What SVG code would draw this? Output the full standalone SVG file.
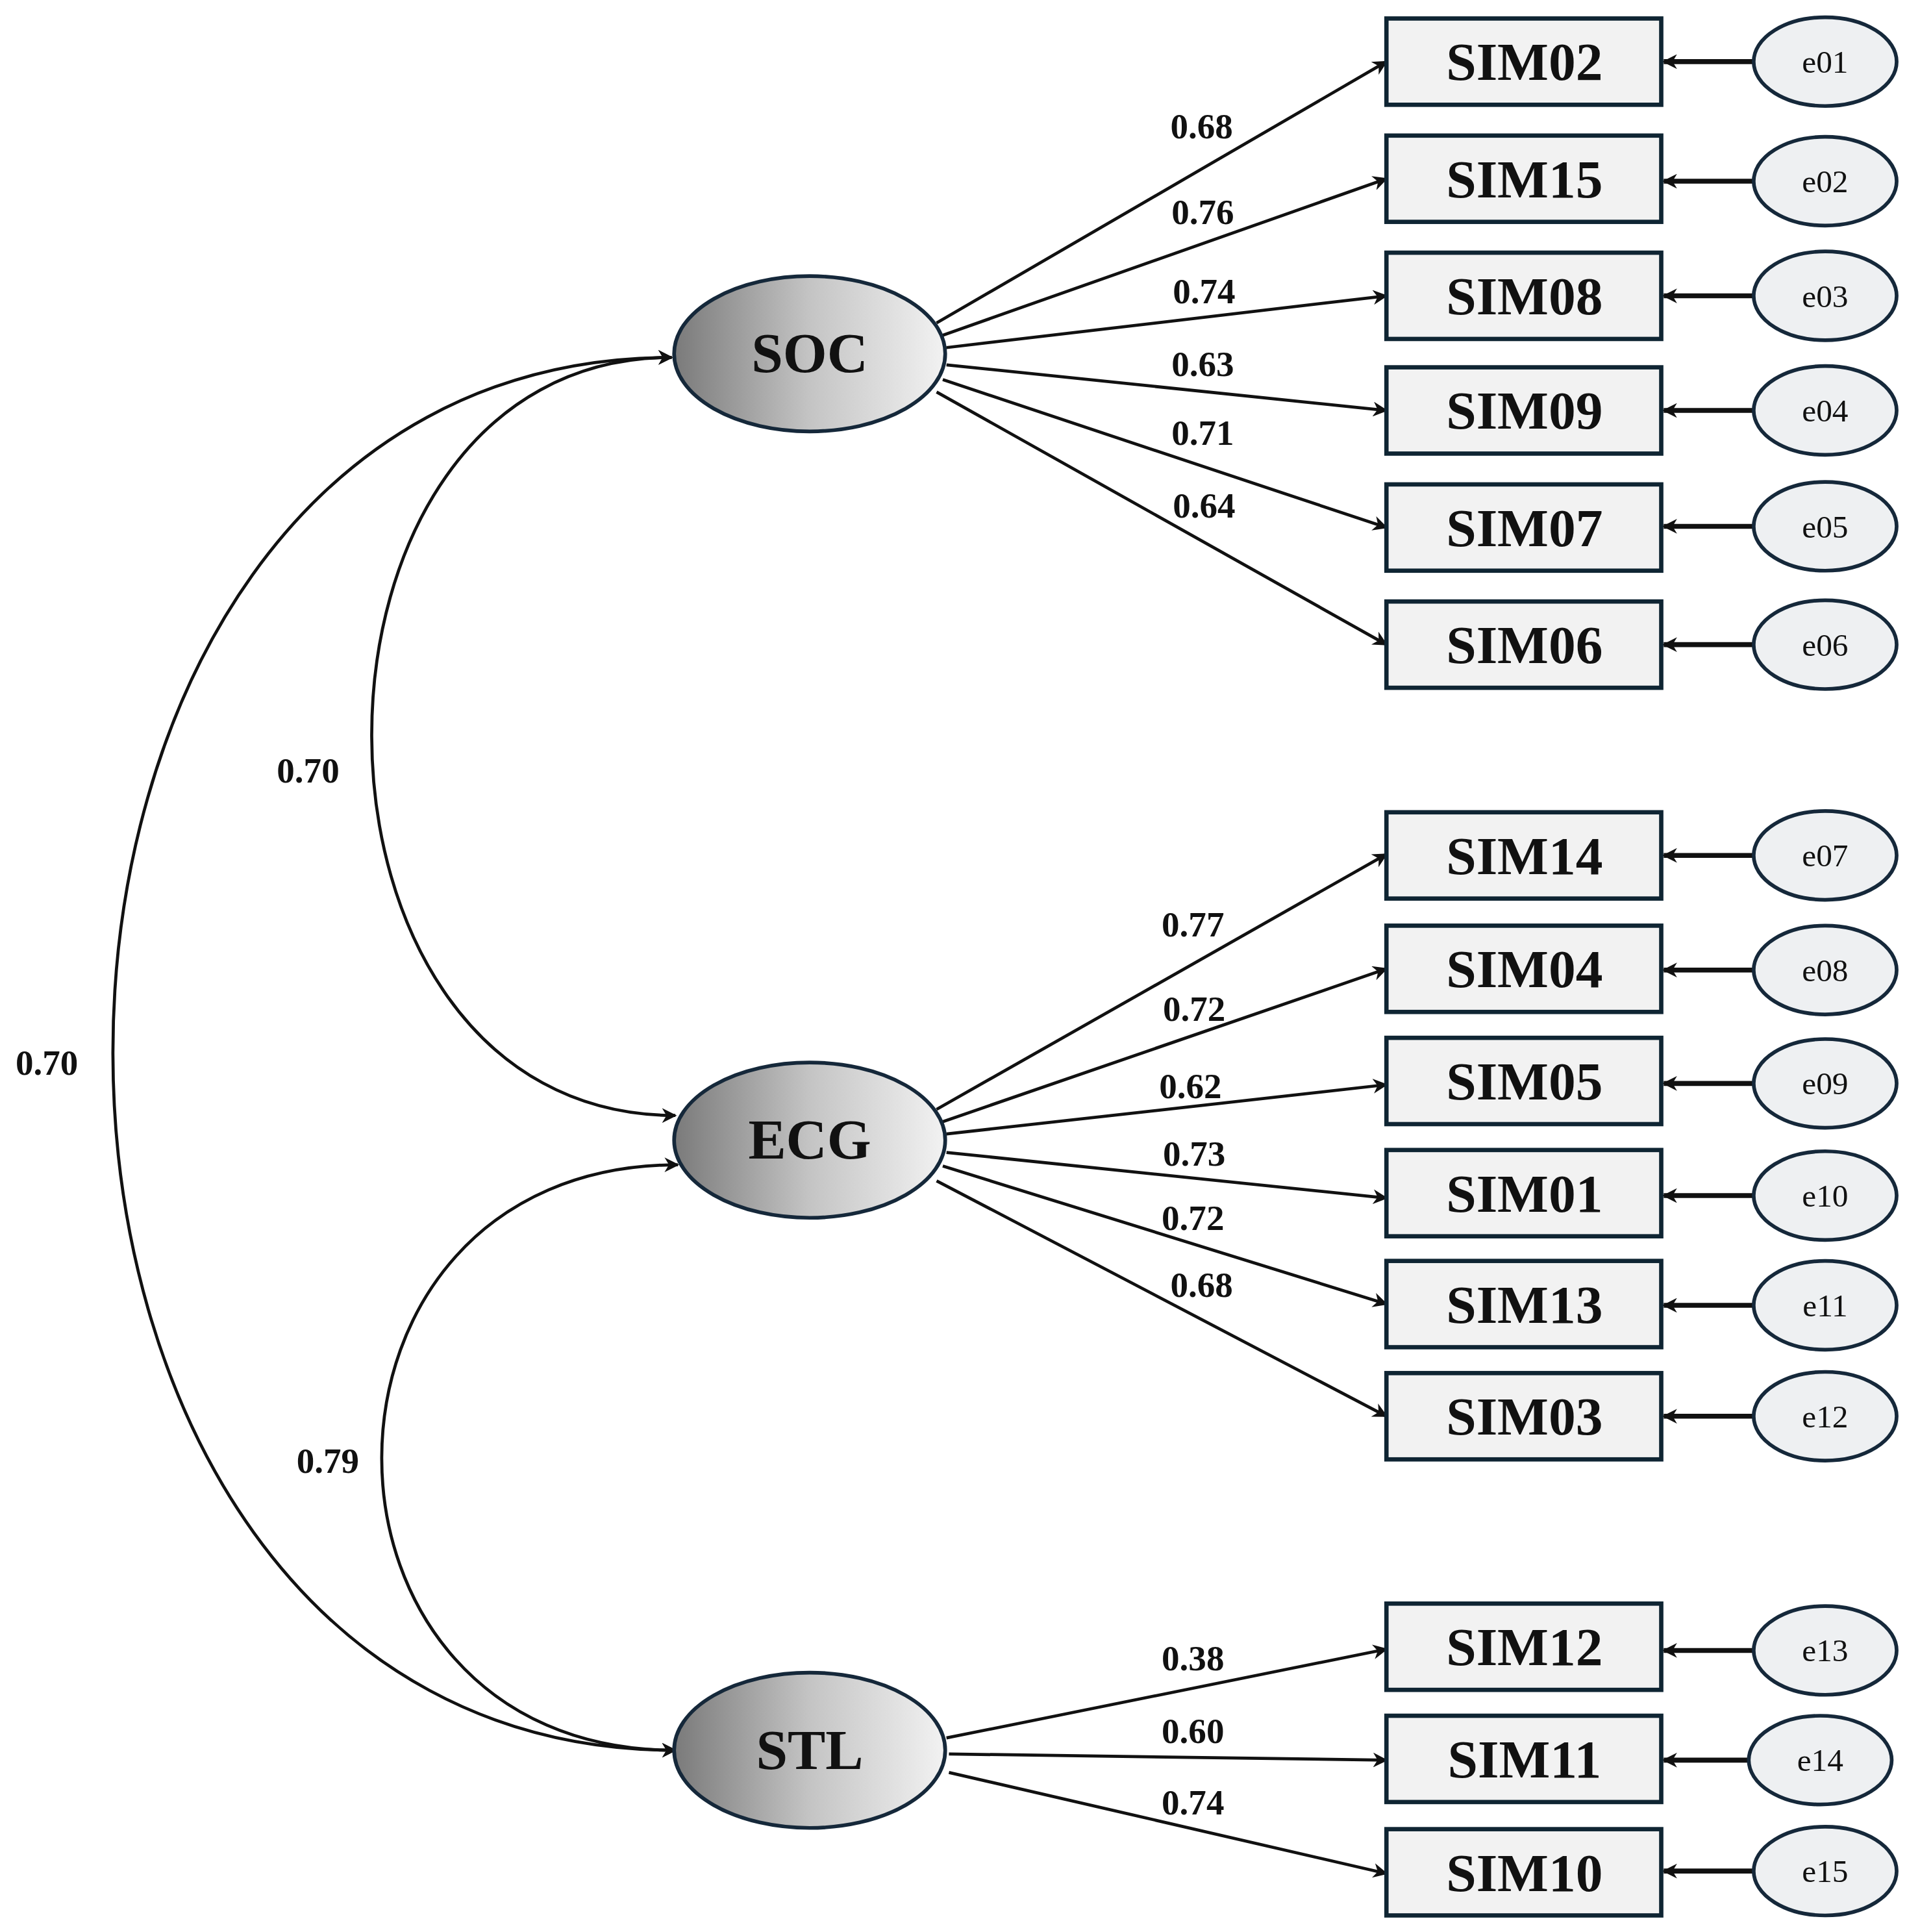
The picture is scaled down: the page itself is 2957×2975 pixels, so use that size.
<svg xmlns="http://www.w3.org/2000/svg" width="2957" height="2975" viewBox="0 0 2957 2975">
<defs>
<linearGradient id="lg" x1="0" y1="0" x2="1" y2="0"><stop offset="0" stop-color="#7a7a7a"/><stop offset="0.5" stop-color="#c4c4c4"/><stop offset="1" stop-color="#f2f2f2"/></linearGradient>
<marker id="ah2" viewBox="0 0 10 10" refX="9" refY="5" markerWidth="12" markerHeight="12" orient="auto-start-reverse" markerUnits="userSpaceOnUse"><path d="M0,0 L10,5 L0,10 L3,5 z" fill="#111"/></marker>
</defs>
<style>
.lat{fill:url(#lg);stroke:#15283a;stroke-width:3}
.box{fill:#f2f2f2;stroke:#0f2533;stroke-width:3.5}
.err{fill:#eef0f2;stroke:#15283a;stroke-width:3}
.t{font-family:"Liberation Serif",serif;text-anchor:middle;fill:#111}
.big{font-size:44px;font-weight:bold}
.lb{font-size:46px;font-weight:bold}
.sm{font-size:26px}
.num{font-size:29px;font-weight:bold}
.c{fill:none;stroke:#111;stroke-width:2.5;marker-end:url(#ah2)}
.cv{fill:none;stroke:#111;stroke-width:2.5;marker-start:url(#ah2);marker-end:url(#ah2)}
.ea{fill:none;stroke:#111;stroke-width:4;marker-end:url(#ah2)}
</style>
<rect width="2957" height="2975" fill="#fff"/>
<g transform="scale(1.898,1.898)">
<g id="connectors">
<path class="c" d="M760,262 L1125,50"/>
<path class="c" d="M765,272 L1125,145"/>
<path class="c" d="M768,282 L1125,240"/>
<path class="c" d="M768,296 L1125,333"/>
<path class="c" d="M765,308 L1125,428"/>
<path class="c" d="M760,318 L1125,523"/>
<path class="c" d="M760,900 L1125,693"/>
<path class="c" d="M765,910 L1125,786"/>
<path class="c" d="M768,920 L1125,880"/>
<path class="c" d="M768,935 L1125,972"/>
<path class="c" d="M765,946 L1125,1058"/>
<path class="c" d="M760,958 L1125,1149"/>
<path class="c" d="M768,1410 L1125,1338"/>
<path class="c" d="M770,1423 L1125,1428"/>
<path class="c" d="M770,1438 L1125,1520"/>
<path class="ea" d="M1423,50 L1350,50"/><path class="ea" d="M1423,147 L1350,147"/><path class="ea" d="M1423,240 L1350,240"/>
<path class="ea" d="M1423,333 L1350,333"/><path class="ea" d="M1423,427 L1350,427"/><path class="ea" d="M1423,523 L1350,523"/>
<path class="ea" d="M1423,694 L1350,694"/><path class="ea" d="M1423,787 L1350,787"/><path class="ea" d="M1423,879 L1350,879"/>
<path class="ea" d="M1423,970 L1350,970"/><path class="ea" d="M1423,1059 L1350,1059"/><path class="ea" d="M1423,1149 L1350,1149"/>
<path class="ea" d="M1423,1339 L1350,1339"/><path class="ea" d="M1418,1428 L1350,1428"/><path class="ea" d="M1423,1518 L1350,1518"/>
<path class="cv" d="M548,905 C220,905 220,290 545,290"/>
<path class="cv" d="M548,1420 C-60,1420 -60,290 545,290"/>
<path class="cv" d="M548,1420 C230,1420 230,945 550,945"/>
</g>
<g id="SOC"><ellipse class="lat" cx="657" cy="287" rx="110" ry="63"/><text class="t lb" x="657" y="302">SOC</text></g>
<g id="ECG"><ellipse class="lat" cx="657" cy="925" rx="110" ry="63"/><text class="t lb" x="657" y="940">ECG</text></g>
<g id="STL"><ellipse class="lat" cx="657" cy="1420" rx="110" ry="63"/><text class="t lb" x="657" y="1435">STL</text></g>
<g id="SIM02"><rect class="box" x="1125" y="15" width="223" height="70"/><text class="t big" x="1237" y="65">SIM02</text></g>
<g id="SIM15"><rect class="box" x="1125" y="110" width="223" height="70"/><text class="t big" x="1237" y="160">SIM15</text></g>
<g id="SIM08"><rect class="box" x="1125" y="205" width="223" height="70"/><text class="t big" x="1237" y="255">SIM08</text></g>
<g id="SIM09"><rect class="box" x="1125" y="298" width="223" height="70"/><text class="t big" x="1237" y="348">SIM09</text></g>
<g id="SIM07"><rect class="box" x="1125" y="393" width="223" height="70"/><text class="t big" x="1237" y="443">SIM07</text></g>
<g id="SIM06"><rect class="box" x="1125" y="488" width="223" height="70"/><text class="t big" x="1237" y="538">SIM06</text></g>
<g id="SIM14"><rect class="box" x="1125" y="659" width="223" height="70"/><text class="t big" x="1237" y="709">SIM14</text></g>
<g id="SIM04"><rect class="box" x="1125" y="751" width="223" height="70"/><text class="t big" x="1237" y="801">SIM04</text></g>
<g id="SIM05"><rect class="box" x="1125" y="842" width="223" height="70"/><text class="t big" x="1237" y="892">SIM05</text></g>
<g id="SIM01"><rect class="box" x="1125" y="933" width="223" height="70"/><text class="t big" x="1237" y="983">SIM01</text></g>
<g id="SIM13"><rect class="box" x="1125" y="1023" width="223" height="70"/><text class="t big" x="1237" y="1073">SIM13</text></g>
<g id="SIM03"><rect class="box" x="1125" y="1114" width="223" height="70"/><text class="t big" x="1237" y="1164">SIM03</text></g>
<g id="SIM12"><rect class="box" x="1125" y="1301" width="223" height="70"/><text class="t big" x="1237" y="1351">SIM12</text></g>
<g id="SIM11"><rect class="box" x="1125" y="1392" width="223" height="70"/><text class="t big" x="1237" y="1442">SIM11</text></g>
<g id="SIM10"><rect class="box" x="1125" y="1484" width="223" height="70"/><text class="t big" x="1237" y="1534">SIM10</text></g>
<g id="e01"><ellipse class="err" cx="1481" cy="50" rx="58" ry="36"/><text class="t sm" x="1481" y="59">e01</text></g>
<g id="e02"><ellipse class="err" cx="1481" cy="147" rx="58" ry="36"/><text class="t sm" x="1481" y="156">e02</text></g>
<g id="e03"><ellipse class="err" cx="1481" cy="240" rx="58" ry="36"/><text class="t sm" x="1481" y="249">e03</text></g>
<g id="e04"><ellipse class="err" cx="1481" cy="333" rx="58" ry="36"/><text class="t sm" x="1481" y="342">e04</text></g>
<g id="e05"><ellipse class="err" cx="1481" cy="427" rx="58" ry="36"/><text class="t sm" x="1481" y="436">e05</text></g>
<g id="e06"><ellipse class="err" cx="1481" cy="523" rx="58" ry="36"/><text class="t sm" x="1481" y="532">e06</text></g>
<g id="e07"><ellipse class="err" cx="1481" cy="694" rx="58" ry="36"/><text class="t sm" x="1481" y="703">e07</text></g>
<g id="e08"><ellipse class="err" cx="1481" cy="787" rx="58" ry="36"/><text class="t sm" x="1481" y="796">e08</text></g>
<g id="e09"><ellipse class="err" cx="1481" cy="879" rx="58" ry="36"/><text class="t sm" x="1481" y="888">e09</text></g>
<g id="e10"><ellipse class="err" cx="1481" cy="970" rx="58" ry="36"/><text class="t sm" x="1481" y="979">e10</text></g>
<g id="e11"><ellipse class="err" cx="1481" cy="1059" rx="58" ry="36"/><text class="t sm" x="1481" y="1068">e11</text></g>
<g id="e12"><ellipse class="err" cx="1481" cy="1149" rx="58" ry="36"/><text class="t sm" x="1481" y="1158">e12</text></g>
<g id="e13"><ellipse class="err" cx="1481" cy="1339" rx="58" ry="36"/><text class="t sm" x="1481" y="1348">e13</text></g>
<g id="e14"><ellipse class="err" cx="1477" cy="1428" rx="58" ry="36"/><text class="t sm" x="1477" y="1437">e14</text></g>
<g id="e15"><ellipse class="err" cx="1481" cy="1518" rx="58" ry="36"/><text class="t sm" x="1481" y="1527">e15</text></g>
<g id="labels">
<text class="t num" x="975" y="112">0.68</text>
<text class="t num" x="976" y="182">0.76</text>
<text class="t num" x="977" y="246">0.74</text>
<text class="t num" x="976" y="305">0.63</text>
<text class="t num" x="976" y="361">0.71</text>
<text class="t num" x="977" y="420">0.64</text>
<text class="t num" x="968" y="760">0.77</text>
<text class="t num" x="969" y="828">0.72</text>
<text class="t num" x="966" y="891">0.62</text>
<text class="t num" x="969" y="946">0.73</text>
<text class="t num" x="968" y="998">0.72</text>
<text class="t num" x="975" y="1052">0.68</text>
<text class="t num" x="968" y="1355">0.38</text>
<text class="t num" x="968" y="1414">0.60</text>
<text class="t num" x="968" y="1472">0.74</text>
<text class="t num" x="250" y="635">0.70</text>
<text class="t num" x="38" y="872">0.70</text>
<text class="t num" x="266" y="1195">0.79</text>
</g>
</g>
</svg>
